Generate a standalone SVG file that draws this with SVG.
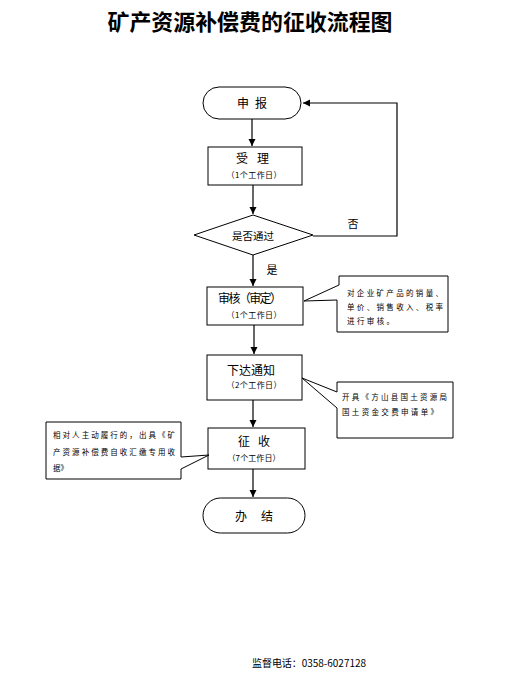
<svg xmlns="http://www.w3.org/2000/svg" width="517" height="688" viewBox="0 0 517 688">
<defs>
<marker id="ah" markerWidth="8" markerHeight="8" refX="7" refY="4" orient="auto" markerUnits="userSpaceOnUse">
<path d="M0,0.5 L7,4 L0,7.5 Z" fill="#000"/>
</marker>
<style>
.shape{fill:#fff;stroke:#000;stroke-width:1}
.conn{fill:none;stroke:#000;stroke-width:1.2}
text{font-family:"Noto Sans CJK SC","Liberation Sans",sans-serif;fill:#000}
.main{font-size:12px}
.sub{font-size:8px;text-anchor:middle}
.note{font-size:7.5px}
</style>
</defs>
<rect width="517" height="688" fill="#fff"/>
<text x="250" y="30" style="font-size:22px;font-weight:bold;text-anchor:middle" textLength="285" lengthAdjust="spacingAndGlyphs">矿产资源补偿费的征收流程图</text>

<g id="connectors">
<line class="conn" x1="252" y1="119" x2="252" y2="146" marker-end="url(#ah)"/>
<line class="conn" x1="253" y1="185" x2="253" y2="214" marker-end="url(#ah)"/>
<line class="conn" x1="253" y1="255" x2="253" y2="286" marker-end="url(#ah)"/>
<line class="conn" x1="254" y1="325" x2="254" y2="354" marker-end="url(#ah)"/>
<line class="conn" x1="253" y1="400" x2="253" y2="427" marker-end="url(#ah)"/>
<line class="conn" x1="253" y1="469" x2="253" y2="497" marker-end="url(#ah)"/>
<polyline class="conn" points="313,236 397,236 397,103 303,103" marker-end="url(#ah)"/>
<text x="353" y="228" style="font-size:11px;text-anchor:middle">否</text>
<text x="272" y="274" style="font-size:11px;text-anchor:middle">是</text>
</g>

<g id="n-shenbao">
<rect class="shape" x="203" y="87" width="98" height="32" rx="16"/>
<text class="main" x="237" y="108" textLength="30" lengthAdjust="spacing">申 报</text>
</g>
<g id="n-shouli">
<rect class="shape" x="208" y="147" width="94" height="38"/>
<text class="main" x="236" y="163" textLength="33" lengthAdjust="spacing">受 理</text>
<text class="sub" x="254" y="178" textLength="55">（1个工作日）</text>
</g>
<g id="n-pass">
<polygon class="shape" points="194,235 253,215 313,235 253,255"/>
<text x="253" y="240" style="font-size:10.5px;text-anchor:middle">是否通过</text>
</g>
<g id="n-shenhe">
<rect class="shape" x="207" y="287" width="96" height="38"/>
<text class="main" x="218" y="303" textLength="64">审核（审定）</text>
<text class="sub" x="254" y="318" textLength="55">（1个工作日）</text>
</g>
<g id="n-xiada">
<rect class="shape" x="207" y="355" width="95" height="45"/>
<text class="main" x="227" y="375" textLength="48">下达通知</text>
<text class="sub" x="254" y="388" textLength="55">（2个工作日）</text>
</g>
<g id="n-zhengshou">
<rect class="shape" x="208" y="428" width="97" height="41"/>
<text class="main" x="238" y="446" textLength="32" lengthAdjust="spacing">征 收</text>
<text class="sub" x="254" y="461" textLength="53">（7个工作日）</text>
</g>
<g id="n-banjie">
<rect class="shape" x="203" y="498" width="102" height="35" rx="17.5"/>
<text class="main" x="235" y="521" textLength="38" lengthAdjust="spacing">办 结</text>
</g>

<g id="c-note1">
<path class="shape" d="M339,276 H448 V332 H337 V300 L304,301 L339,285 Z"/>
<text class="note" x="347" y="296" textLength="96" lengthAdjust="spacing">对企业矿产品的销量、</text>
<text class="note" x="347" y="310" textLength="96" lengthAdjust="spacing">单价、销售收入、税率</text>
<text class="note" x="347" y="324" textLength="47" lengthAdjust="spacing">进行审核。</text>
</g>
<g id="c-note2">
<path class="shape" d="M337,382 H453 V438 H337 V408 L302,378 L337,392 Z"/>
<text class="note" x="342" y="400" textLength="105" lengthAdjust="spacing">开具《方山县国土资源局</text>
<text class="note" x="342" y="415" textLength="96" lengthAdjust="spacing">国土资金交费申请单》</text>
</g>
<g id="c-note3">
<path class="shape" d="M46,422 H181 V457 L209,455 L181,469 V479 H46 Z"/>
<text class="note" x="53" y="438" textLength="122" lengthAdjust="spacing">相对人主动履行的，出具《矿</text>
<text class="note" x="53" y="455" textLength="122" lengthAdjust="spacing">产资源补偿费自收汇缴专用收</text>
<text class="note" x="53" y="471" textLength="15" lengthAdjust="spacing">据》</text>
</g>

<text x="252" y="667" style="font-size:10px" textLength="114" lengthAdjust="spacing">监督电话：0358-6027128</text>
</svg>
